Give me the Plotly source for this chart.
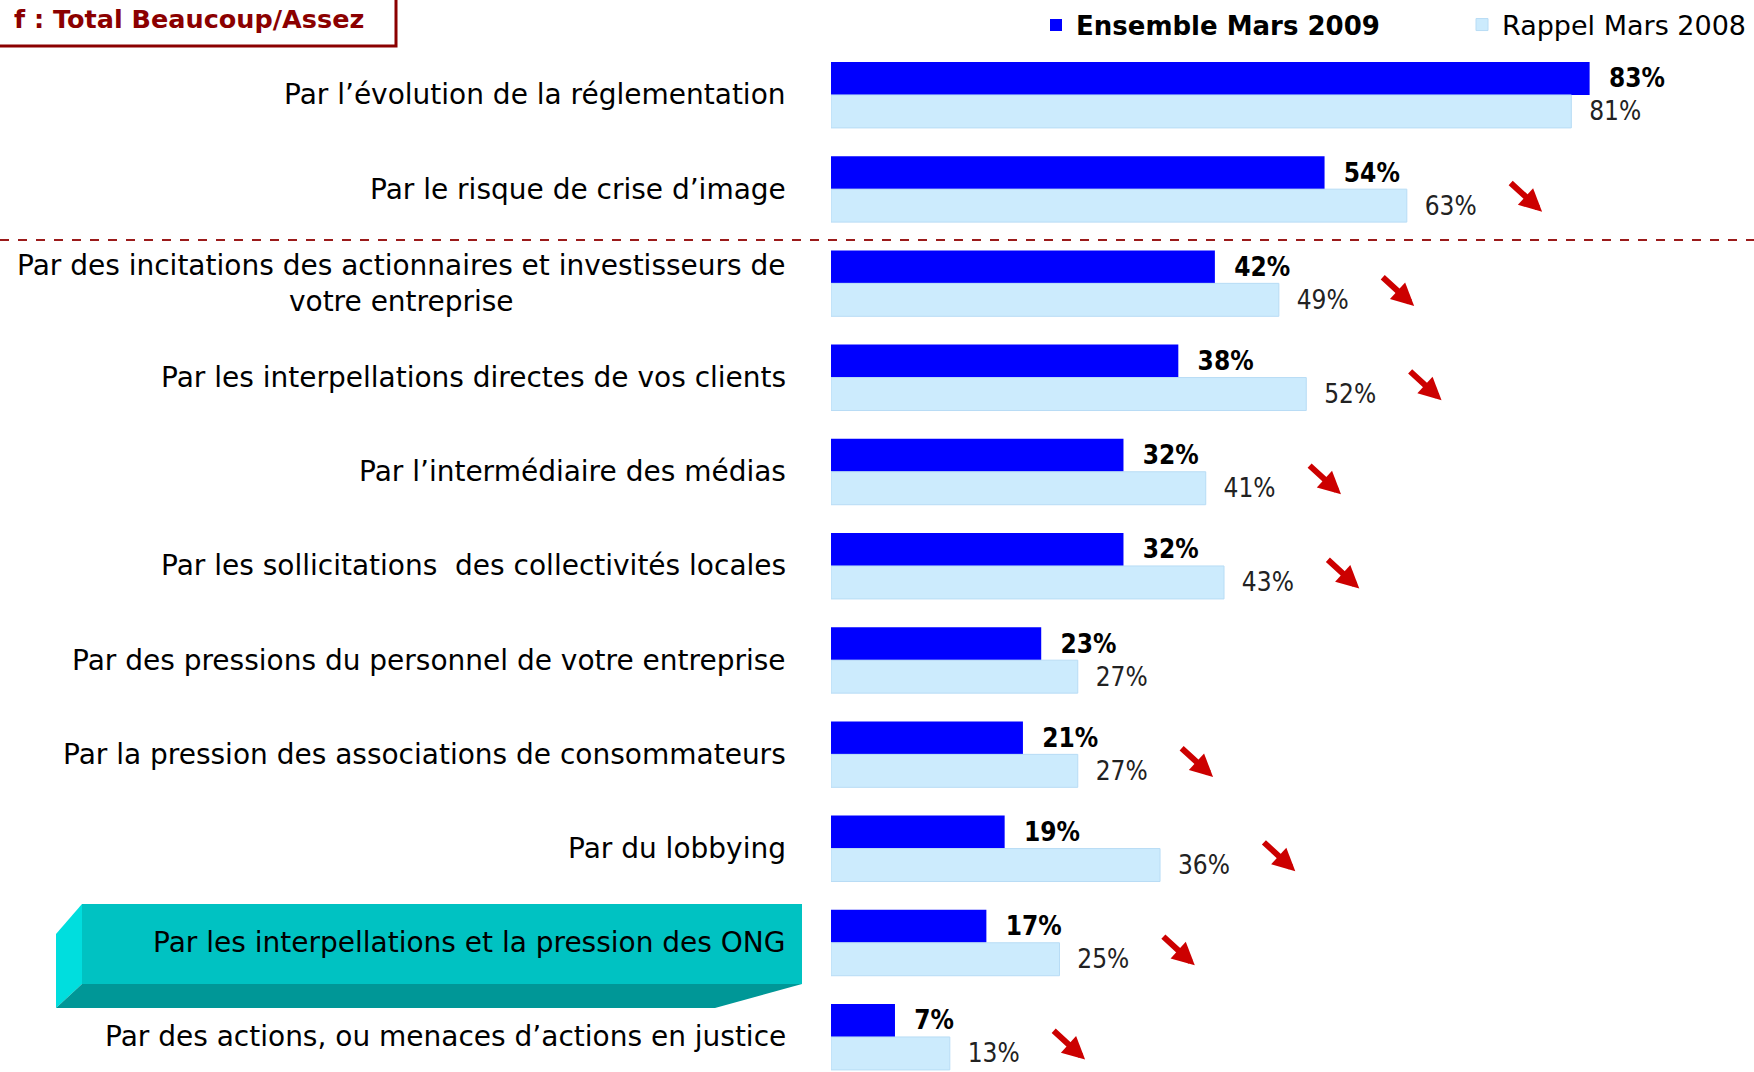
import plotly.graph_objects as go

categories = [
    "Par l\u2019évolution de la réglementation",
    "Par le risque de crise d\u2019image",
    "Par des incitations des actionnaires et investisseurs de<br>votre entreprise",
    "Par les interpellations directes de vos clients",
    "Par l\u2019intermédiaire des médias",
    "Par les sollicitations  des collectivités locales",
    "Par des pressions du personnel de votre entreprise",
    "Par la pression des associations de consommateurs",
    "Par du lobbying",
    "Par les interpellations et la pression des ONG",
    "Par des actions, ou menaces d\u2019actions en justice",
]
values_2009 = [83, 54, 42, 38, 32, 32, 23, 21, 19, 17, 7]
values_2008 = [81, 63, 49, 52, 41, 43, 27, 27, 36, 25, 13]
trend_down = [False, True, True, True, True, True, False, True, True, True, True]
series_names = ["Ensemble Mars 2009", "Rappel Mars 2008"]
title_text = "f : Total Beaucoup/Assez"

W, H = 1754, 1072
L = 831
FONT = "DejaVu Sans, sans-serif"
FONT_C = "DejaVu Sans Condensed, DejaVu Sans, sans-serif"

def px(xp):
    return (xp - L) / (W - L)

def py(yp):
    return 1 - yp / H

rows = list(range(len(categories)))
NB = "\u00a0\u00a0"

fig = go.Figure()
fig.add_trace(go.Bar(
    y=rows, x=values_2009, orientation="h", name="<b>" + series_names[0] + "</b>",
    legend="legend",
    marker=dict(color="#0000FF", line=dict(width=0)),
    text=[NB + f"{v}%" for v in values_2009], textposition="outside",
    textfont=dict(family=FONT_C, size=26, color="#000000", weight="bold"),
    cliponaxis=False, constraintext="none",
))
fig.add_trace(go.Bar(
    y=rows, x=values_2008, orientation="h", name=series_names[1],
    legend="legend2",
    marker=dict(color="#CCEBFD", line=dict(color="#B8DCF5", width=1)),
    text=[NB + f"{v}%" for v in values_2008], textposition="outside",
    textfont=dict(family=FONT_C, size=26, color="#222222"),
    cliponaxis=False, constraintext="none",
))

shapes = []
# highlight box for the ONG label
shapes.append(dict(type="path", xref="paper", yref="paper", layer="below",
    path=f"M{px(82)},{py(904)} L{px(802)},{py(904)} L{px(802)},{py(984)} L{px(82)},{py(984)} Z",
    fillcolor="#00C2C2", line=dict(width=0)))
shapes.append(dict(type="path", xref="paper", yref="paper", layer="below",
    path=f"M{px(82)},{py(904)} L{px(56)},{py(934)} L{px(56)},{py(1008)} L{px(82)},{py(984)} Z",
    fillcolor="#00DEDE", line=dict(width=0)))
shapes.append(dict(type="path", xref="paper", yref="paper", layer="below",
    path=f"M{px(82)},{py(984)} L{px(802)},{py(984)} L{px(715)},{py(1008)} L{px(56)},{py(1008)} Z",
    fillcolor="#009797", line=dict(width=0)))
# dashed separator
shapes.append(dict(type="line", xref="paper", yref="paper",
    x0=px(0), x1=px(W), y0=py(240), y1=py(240),
    line=dict(color="#9B1B1B", width=2, dash="dash")))
# title box
shapes.append(dict(type="rect", xref="paper", yref="paper",
    x0=px(-10), x1=px(396), y0=py(-10), y1=py(46),
    line=dict(color="#8B0000", width=3), fillcolor="rgba(0,0,0,0)"))

annotations = []
for i, lab in enumerate(categories):
    annotations.append(dict(
        x=px(788), xref="paper", y=i, yref="y", text=lab, showarrow=False,
        xanchor="right", yanchor="middle", align="center",
        font=dict(family=FONT, size=28, color="#000000"),
    ))
for i, (v, d) in enumerate(zip(values_2008, trend_down)):
    if d:
        annotations.append(dict(
            x=v + 14.8, y=i + 0.24, xref="x", yref="y",
            ax=v + 11.2, ay=i - 0.08, axref="x", ayref="y",
            text="", showarrow=True, arrowhead=2, arrowsize=0.75,
            arrowwidth=6, arrowcolor="#CC0000", standoff=0,
        ))
annotations.append(dict(
    x=px(366), y=py(19), xref="paper", yref="paper", text="<b>" + title_text + "</b>",
    showarrow=False, xanchor="right", yanchor="middle",
    font=dict(family=FONT, size=25.5, color="#8B0000"),
))

fig.update_layout(
    width=W, height=H, margin=dict(l=L, r=0, t=0, b=0, autoexpand=False),
    paper_bgcolor="white", plot_bgcolor="white",
    barmode="group", bargap=0.3, bargroupgap=0,
    xaxis=dict(range=[0, (W - L) / 9.14], visible=False),
    yaxis=dict(range=[10.372, -1.008], visible=False),
    shapes=shapes, annotations=annotations,
    legend=dict(orientation="h", x=px(1036), xanchor="left", y=py(25), yanchor="middle",
                font=dict(family=FONT, size=26, color="#000000"),
                bgcolor="rgba(0,0,0,0)"),
    legend2=dict(orientation="h", x=px(1462), xanchor="left", y=py(25), yanchor="middle",
                 font=dict(family=FONT, size=27, color="#000000"),
                 bgcolor="rgba(0,0,0,0)"),
    showlegend=True,
)

fig.write_html("out.html", config={"displayModeBar": False},
               post_script="document.body.style.margin='0';document.body.style.overflow='hidden';")
